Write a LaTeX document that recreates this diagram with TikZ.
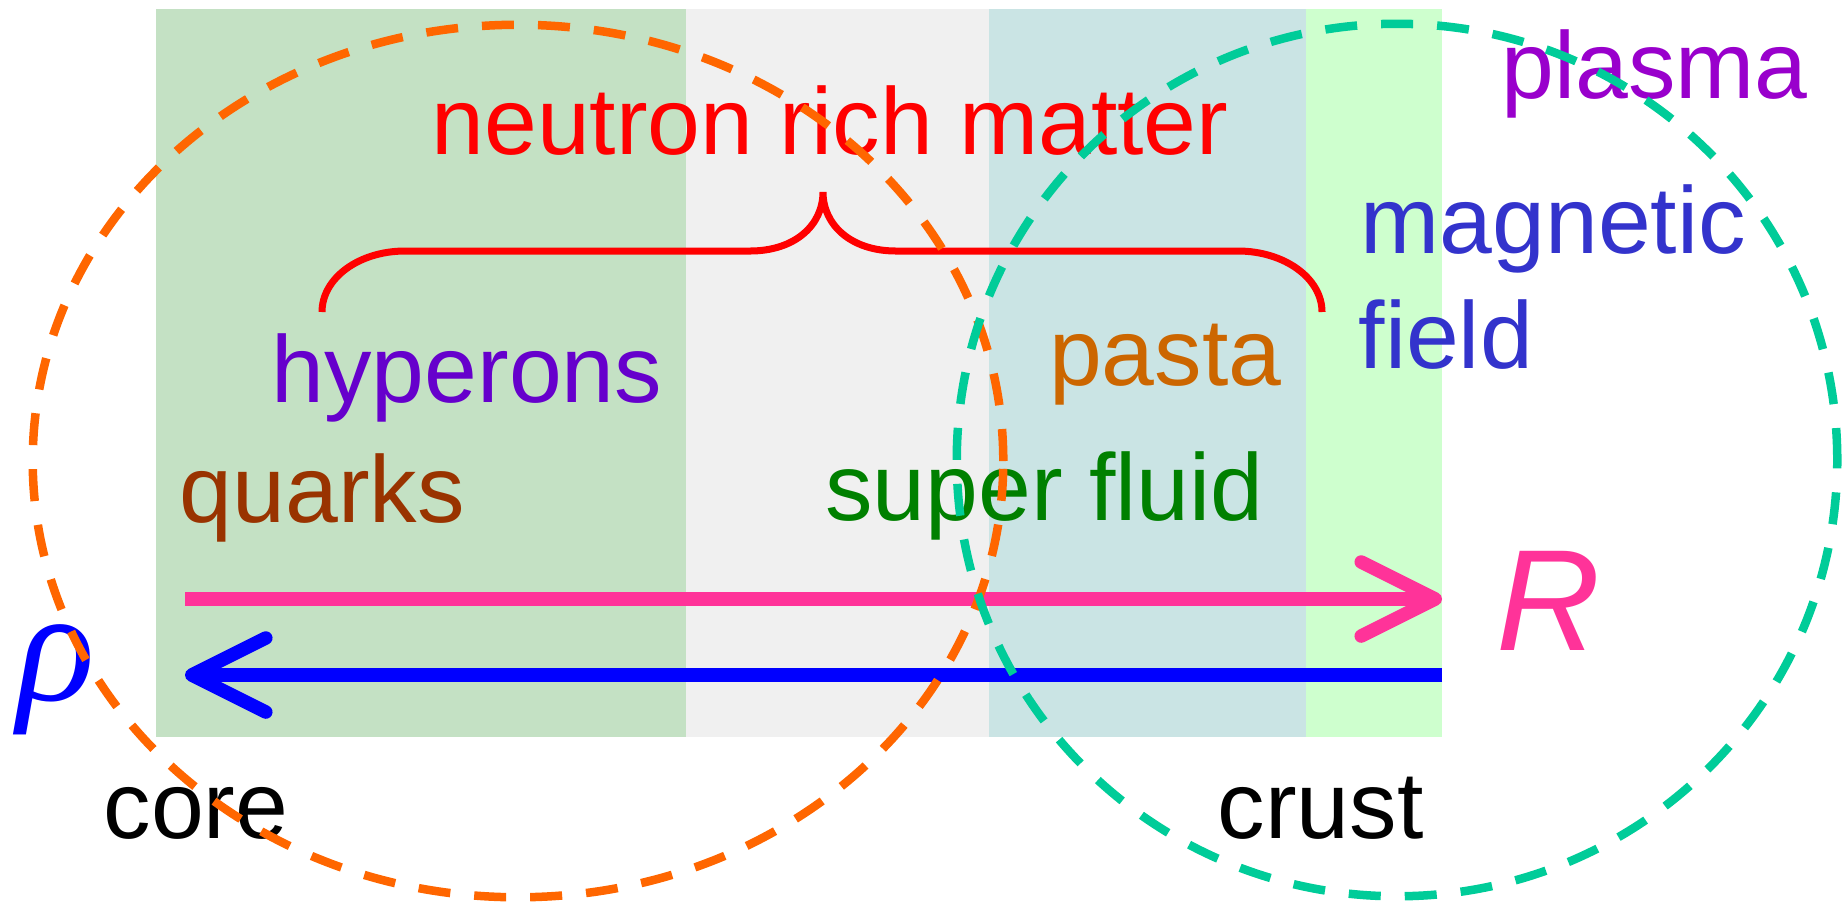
\documentclass[tikz,border=0pt]{standalone}
\usepackage{fontspec}
\setmainfont{Liberation Sans}
\newfontfamily\rhofont{Liberation Serif}
\usetikzlibrary{arrows.meta}
\definecolor{coregreen}{RGB}{196,225,196}
\definecolor{midgray}{RGB}{240,240,240}
\definecolor{pastateal}{RGB}{202,228,228}
\definecolor{crustgreen}{RGB}{206,255,206}
\definecolor{coreorange}{HTML}{FF6600}
\definecolor{crustteal}{HTML}{00CC99}
\definecolor{radiuspink}{HTML}{FF3399}
\definecolor{hyperpurple}{HTML}{6600CC}
\definecolor{quarkbrown}{HTML}{993300}
\definecolor{fluidgreen}{HTML}{008000}
\definecolor{pastaorange}{HTML}{CC6600}
\definecolor{plasmaviolet}{HTML}{9900CC}
\definecolor{fieldblue}{HTML}{3333CC}

\begin{document}
\begin{tikzpicture}[x=0.01cm,y=-0.01cm,
    every node/.style={inner sep=0pt,font=\fontsize{27}{32}\selectfont},
    ring/.style={line width=0.085cm,dash pattern=on 0.32cm off 0.24cm},
    axis/.style={line width=0.135cm,-{Straight Barb[length=0.74cm,width=0.74cm,round]}}]
  \useasboundingbox (0,0) rectangle (1843,902);
  % layers of the star
  \fill[coregreen] (156,9) rectangle (686,737);
  \fill[midgray] (686,9) rectangle (989,737);
  \fill[pastateal] (989,9) rectangle (1306,737);
  \fill[crustgreen] (1306,9) rectangle (1442,737);
  % labels
  \node[text=red,anchor=base] (nrm) at (830,154) {neutron rich matter};
  \node[text=hyperpurple,anchor=base west] (hyp) at (271,402) {hyperons};
  \node[text=quarkbrown,anchor=base west] (qrk) at (179,522) {quarks};
  \node[text=fluidgreen,anchor=base east] (sfl) at (1264,520) {super fluid};
  \node[text=pastaorange,anchor=base east] (pst) at (1282,385) {pasta};
  \node[text=plasmaviolet,anchor=base west] (pls) at (1501,98) {plasma};
  \node[text=fieldblue,anchor=base west] (mag) at (1360,253) {magnetic};
  \node[text=fieldblue,anchor=base west] (fld) at (1358,368) {field};
  \node[anchor=base west] (core) at (103,838) {core};
  \node[anchor=base west] (crust) at (1217,838) {crust};
  \node[text=radiuspink,anchor=base west,font=\fontsize{41}{48}\selectfont\itshape] (rad) at (1496,650) {R};
  \node[text=blue,anchor=base west,font=\rhofont\fontsize{46}{52}\selectfont\itshape] (rho) at (17,700) {ρ};
  % brace
  \draw[red,line width=0.07cm] (322,312) .. controls (322,278) and (359,251) .. (405,251) -- (750,251)
    .. controls (795,251) and (823,225) .. (823,192) .. controls (823,225) and (851,251) .. (896,251)
    -- (1238,251) .. controls (1284,251) and (1322,278) .. (1322,312);
  % axes
  \coordinate (rtail) at (185,599);
  \coordinate (rhead) at (1442,599);
  \coordinate (rhotail) at (1442,675);
  \coordinate (rhohead) at (185,675);
  \draw[axis,radiuspink] (rtail) -- (rhead);
  \draw[axis,blue] (rhotail) -- (rhohead);
  % core and crust
  \draw[ring,coreorange] (518,461) ellipse [x radius=4.85cm,y radius=4.36cm];
  \draw[ring,crustteal] (1397,460) ellipse [x radius=4.40cm,y radius=4.36cm];
\end{tikzpicture}
\end{document}
